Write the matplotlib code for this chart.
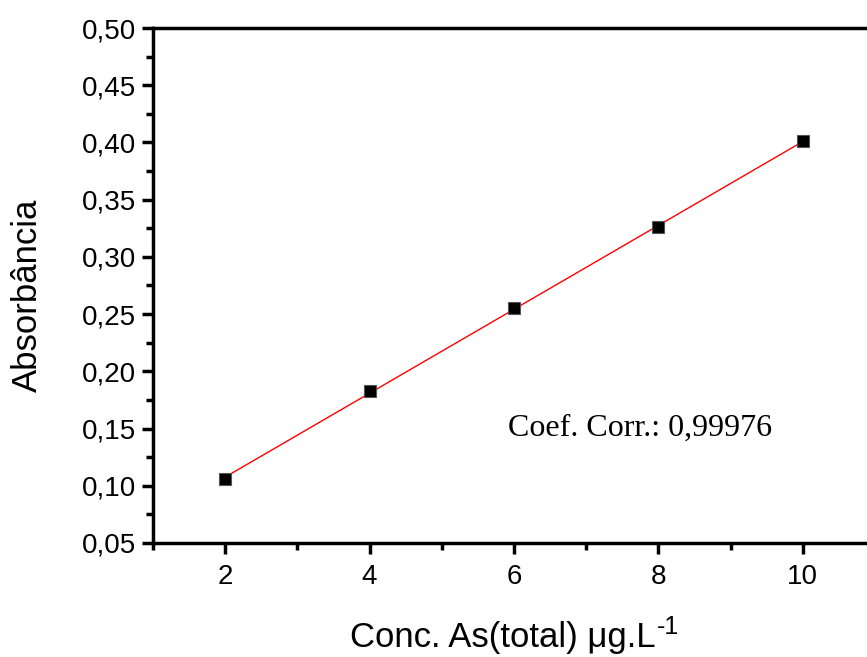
import matplotlib
matplotlib.use("Agg")
import matplotlib.pyplot as plt
from matplotlib.ticker import MultipleLocator, FuncFormatter
import numpy as np

plt.rcParams['font.family'] = ['Liberation Sans', 'DejaVu Sans']

conc = [2, 4, 6, 8, 10]
absorb = [0.106, 0.183, 0.255, 0.326, 0.401]
coef_text = "Coef. Corr.: 0,99976"

fig = plt.figure(figsize=(8.67, 6.57), dpi=100)
# right part of the frame runs off the picture, as in the original
x0, x1, y0, y1 = 153, 875, 28, 543
ax = fig.add_axes([x0 / 867, (657 - y1) / 657, (x1 - x0) / 867, (y1 - y0) / 657])

# linear fit
a, b = np.polyfit(conc, absorb, 1)
xf = np.array([conc[0], conc[-1]])
ax.plot(xf, a * xf + b, color='red', lw=1, zorder=2)
ax.plot(conc, absorb, 's', color='black', markersize=8, markeredgecolor='#555555',
        markeredgewidth=0.8, zorder=3)

ax.set_xlim(1, 11)
ax.set_ylim(0.05, 0.50)
ax.xaxis.set_major_locator(MultipleLocator(2))
ax.xaxis.set_minor_locator(MultipleLocator(1))
ax.yaxis.set_major_locator(MultipleLocator(0.05))
ax.yaxis.set_minor_locator(MultipleLocator(0.025))
ax.yaxis.set_major_formatter(FuncFormatter(lambda v, p: f"{v:.2f}".replace('.', ',')))

for s in ax.spines.values():
    s.set_linewidth(2.5)
ax.tick_params(which='both', direction='out', top=False, right=False, width=2.5)
ax.tick_params(which='major', length=8, labelsize=20)
ax.tick_params(axis='y', which='major', pad=4)
ax.tick_params(axis='x', which='major', pad=7)
ax.tick_params(which='minor', length=5)

ax.set_ylabel("Absorbância", fontsize=25)
ax.set_xlabel("Conc. As(total) μg.L", fontsize=25)
ax.yaxis.set_label_coords(-(x0 - 27) / (x1 - x0), (y1 - 295) / (y1 - y0))
ax.xaxis.set_label_coords((503 - x0) / (x1 - x0), -(638 - y1) / (y1 - y0))
ax.xaxis.label.set_va('center')
ax.yaxis.label.set_va('center')
# superscript "-1" with a plain hyphen
ax.annotate("-1", xy=(1, 1), xycoords=ax.xaxis.label, xytext=(1, -4),
            textcoords='offset points', fontsize=18, ha='left', va='center')

ax.text(7.75, 0.15, coef_text, fontsize=23, family='Liberation Serif', va='center', ha='center')

fig.savefig("out.png", dpi=100)
